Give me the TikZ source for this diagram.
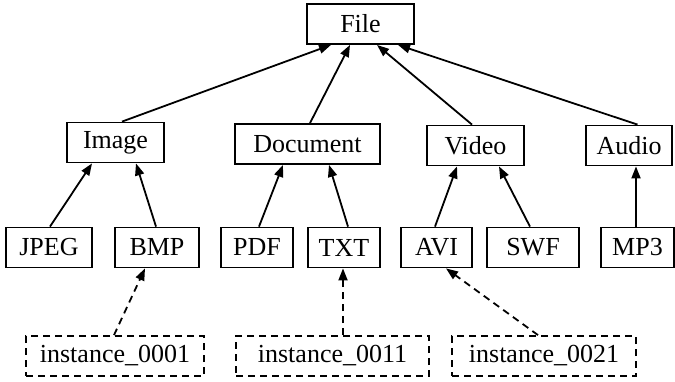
\documentclass[tikz,border=0pt]{standalone}
\usepackage{fontspec}
\setmainfont{Liberation Serif}
\usetikzlibrary{arrows.meta,calc}
\begin{document}
\begin{tikzpicture}[x=1pt,y=-1pt,
  box/.style={draw,line width=1.8pt,inner sep=0pt,minimum height=40pt,
    font=\fontsize{26}{30}\selectfont},
  inst/.style={box,dash pattern=on 7pt off 5pt},
  link/.style={line width=1.8pt,-{Triangle[length=12pt,width=9pt]}},
  dlink/.style={link,dash pattern=on 7pt off 5pt}]
\useasboundingbox (0,0) rectangle (675,381);
% top level
\node[box,minimum width=107pt] (file) at (360.5,24) {File};
% categories
\node[box,minimum width=97pt]  (image) at (115.5,142.5) {Image};
\node[box,minimum width=145pt] (doc)   at (307.5,144)   {Document};
\node[box,minimum width=97pt]  (video) at (475.5,145.5) {Video};
\node[box,minimum width=86pt]  (audio) at (629,145.5)   {Audio};
% formats
\node[box,minimum width=86pt] (jpeg) at (49,247.5)  {JPEG};
\node[box,minimum width=84pt] (bmp)  at (157,247.5) {BMP};
\node[box,minimum width=72pt] (pdf)  at (257,247.5) {PDF};
\node[box,minimum width=72pt] (txt)  at (344,247.5) {TXT};
\node[box,minimum width=71pt] (avi)  at (436.5,247.5) {AVI};
\node[box,minimum width=92pt] (swf)  at (533,247.5) {SWF};
\node[box,minimum width=73pt] (mp3)  at (637.5,247.5) {MP3};
% instances
\node[inst,minimum width=178pt] (i1) at (115,356)   {instance\_0001};
\node[inst,minimum width=193pt] (i2) at (332.5,356) {instance\_0011};
\node[inst,minimum width=184pt] (i3) at (544,356)   {instance\_0021};
% category -> file
\draw[link] ($(image.north)+(6.5,0)$) -- ($(file.south)+(-29.5,0)$);
\draw[link] ($(doc.north)+(2.5,0)$)   -- ($(file.south)+(-10.5,0)$);
\draw[link] ($(video.north)+(-3.5,0)$) -- ($(file.south)+(16.5,0)$);
\draw[link] ($(audio.north)+(8.5,0)$)  -- ($(file.south)+(37.5,0)$);
% format -> category
\draw[link] ($(jpeg.north)+(1,0)$)   -- ($(image.south)+(-23.5,0)$);
\draw[link] ($(bmp.north)+(-1,0)$)   -- ($(image.south)+(20.5,0)$);
\draw[link] ($(pdf.north)+(2,0)$)    -- ($(doc.south)+(-24.5,0)$);
\draw[link] ($(txt.north)+(4,0)$)    -- ($(doc.south)+(21.5,0)$);
\draw[link] ($(avi.north)+(-1.5,0)$) -- ($(video.south)+(-18.5,0)$);
\draw[link] ($(swf.north)+(-3,0)$)   -- ($(video.south)+(23.5,0)$);
\draw[link] ($(mp3.north)+(-1.5,0)$) -- ($(audio.south)+(7,0)$);
% instance -> format
\draw[dlink] ($(i1.north)+(-1,0)$)   -- ($(bmp.south)+(-12,0)$);
\draw[dlink] ($(i2.north)+(10.5,0)$) -- ($(txt.south)+(-1,0)$);
\draw[dlink] ($(i3.north)+(-6,0)$)   -- ($(avi.south)+(9.5,0)$);
\end{tikzpicture}
\end{document}
